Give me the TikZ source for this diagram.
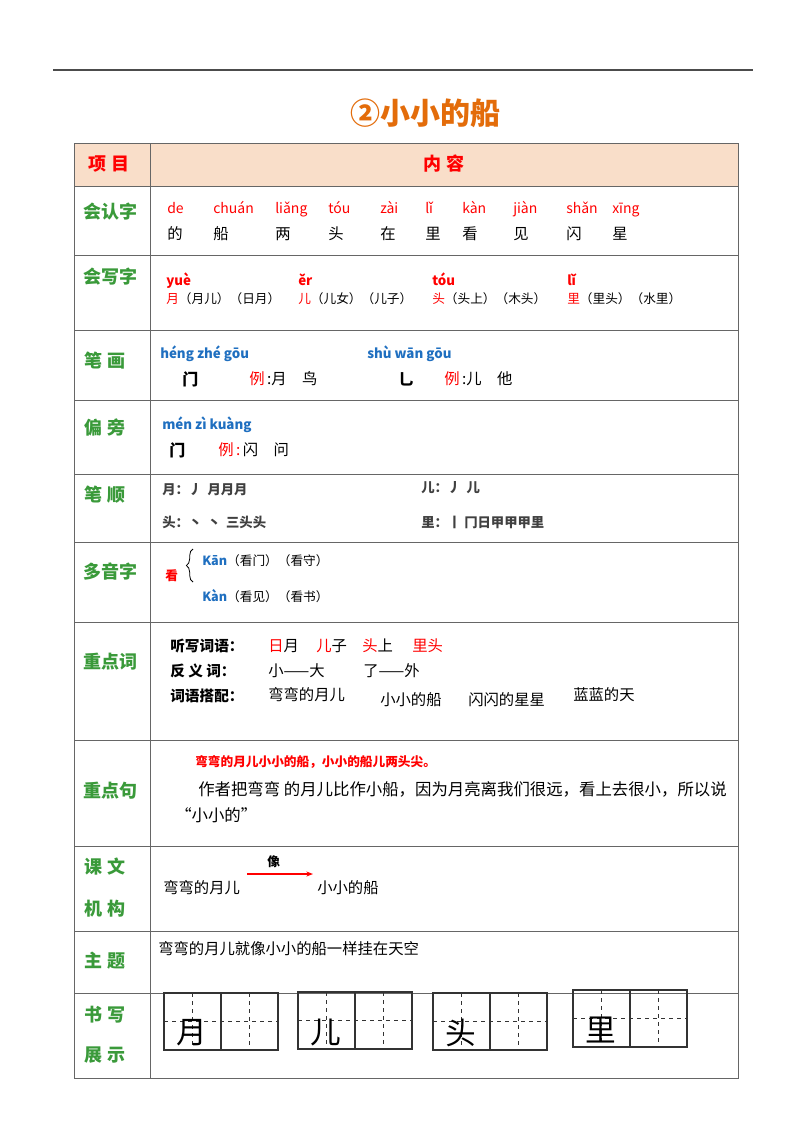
\documentclass[tikz,border=0pt]{standalone}
\usepackage{fontspec}
\setmainfont{Noto Sans CJK SC}
\usetikzlibrary{arrows.meta,decorations.pathreplacing}
\definecolor{lab}{HTML}{3A9A3A}
\definecolor{hdr}{HTML}{F9DEC9}
\definecolor{pyb}{HTML}{1F6FC0}
\definecolor{ttl}{HTML}{E36C0A}
\definecolor{rd}{HTML}{FF0000}
\begin{document}
\begin{tikzpicture}[x=0.75pt,y=-0.75pt,
 lbl/.style={font=\fontsize{13.5}{14}\selectfont\bfseries,text=lab},
 hd/.style={font=\fontsize{13.5}{14}\selectfont\bfseries,text=rd},
 tx/.style={anchor=west,font=\fontsize{11.5}{13}\selectfont,inner sep=0},
 sm/.style={anchor=west,font=\fontsize{9.5}{11}\selectfont,inner sep=0},
 py/.style={anchor=base west,font=\fontsize{10.5}{12}\selectfont,text=rd,inner sep=0},
 pyb/.style={anchor=base west,font=\fontsize{10}{12}\selectfont\bfseries,text=pyb,inner sep=0},
 so/.style={sm,font=\fontsize{10}{11}\selectfont\bfseries,text=black!75},
 grid/.style={draw=black!80,line width=0.8pt},
 gl/.style={draw=black!80,dashed,line width=0.5pt},
 big/.style={font=\fontsize{23}{24}\selectfont,inner sep=0}]
\useasboundingbox (0,0) rectangle (800,1131);
\fill[white] (0,0) rectangle (800,1131);
\draw[black!70,line width=0.8pt] (53,70) -- (753,70);
\node[font=\fontsize{22.5}{23}\selectfont\bfseries,text=ttl] (title) at (425,113) {②小小的船};
% table
\fill[hdr] (74,143) rectangle (738,186);
\draw[black!60,line width=0.7pt] (74,143) rectangle (738,1078);
\draw[black!60,line width=0.7pt] (150,143) -- (150,1078);
\foreach \y in {186,255,330,400,474,542,622,740,846,931,993}
  \draw[black!60,line width=0.7pt] (74,\y) -- (738,\y);
\node[hd] (h1) at (109,164) {项 目};
\node[hd] (h2) at (444,164) {内 容};
\node[lbl] (l1) at (110,212) {会认字};
\node[lbl] (l2) at (110,277) {会写字};
\node[lbl] (l3) at (105,361) {笔 画};
\node[lbl] (l4) at (105,427) {偏 旁};
\node[lbl] (l5) at (105,495) {笔 顺};
\node[lbl] (l6) at (110,572) {多音字};
\node[lbl] (l7) at (110,662) {重点词};
\node[lbl] (l8) at (110,791) {重点句};
\node[lbl] (l9a) at (105,867) {课 文};
\node[lbl] (l9b) at (105,909) {机 构};
\node[lbl] (l10) at (105,961) {主 题};
\node[lbl] (l11a) at (105,1015) {书 写};
\node[lbl] (l11b) at (105,1055) {展 示};
% row 1
\foreach \x/\p/\c in {167/de/的,213/chuán/船,275/liǎng/两,328/tóu/头,380/zài/在,425/lǐ/里,462/kàn/看,513/jiàn/见,566/shǎn/闪,612/xīng/星}{
  \node[py] (p\x) at (\x,213) {\p};
  \node[tx] (c\x) at (\x,234) {\c};}
% row 2
\foreach \x/\p/\c/\r in {166/yuè/月/（月儿）（日月）,298/ěr/儿/（儿女）（儿子）,432/tóu/头/（头上）（木头）,567/lǐ/里/（里头）（水里）}{
  \node[py,font=\fontsize{10}{12}\selectfont\bfseries] (q\x) at (\x,285) {\p};
  \node[sm] (w\x) at (\x,299) {\textcolor{rd}{\c}\r};}
% row 3
\node[pyb] (bh1) at (160,358) {héng zhé gōu};
\node[pyb] (bh2) at (367,358) {shù wān gōu};
\node[tx,font=\fontsize{12}{13}\selectfont\bfseries] (s1) at (182,379) {门};
\node[tx] (e1) at (249,379) {\textcolor{rd}{例}\,:月\quad 鸟};
\node[tx,font=\fontsize{12}{13}\selectfont\bfseries] (s2) at (398,379) {乚};
\node[tx] (e2) at (444,379) {\textcolor{rd}{例}\,:儿\quad 他};
% row 4
\node[pyb] (bp) at (162,429) {mén zì kuàng};
\node[tx,font=\fontsize{12}{13}\selectfont\bfseries] (s3) at (169,450) {门};
\node[tx] (e3) at (218,450) {\textcolor{rd}{例\,:}\,闪\quad 问};
% row 5
\node[so] (o1) at (162,490) {月：丿 \,月月月};
\node[so] (o2) at (421,488) {儿：丿 \,儿};
\node[so] (o3) at (162,522) {头：丶 \,丶 \,三头头};
\node[so] (o4) at (421,522) {里：丨 冂日甲甲甲里};
% row 6
\node[sm,text=rd,font=\fontsize{9.5}{11}\selectfont\bfseries] (kan) at (165,576) {看};
\draw[black,line width=0.6pt,decorate,decoration={brace,amplitude=5pt}] (193,582) -- (193,549);
\node[sm] (k1) at (202,561) {\textcolor{pyb}{\bfseries Kān}（看门）（看守）};
\node[sm] (k2) at (202,596) {\textcolor{pyb}{\bfseries Kàn}（看见）（看书）};
% row 7
\node[tx,font=\fontsize{11}{13}\selectfont\bfseries] (t1) at (170,646) {听写词语：};
\node[tx,font=\fontsize{11}{13}\selectfont\bfseries] (t2) at (170,671) {反\ 义\ 词：};
\node[tx,font=\fontsize{11}{13}\selectfont\bfseries] (t3) at (170,696) {词语搭配：};
\node[tx] (a1) at (268,646) {\textcolor{rd}{日}月};
\node[tx] (a2) at (316,646) {\textcolor{rd}{儿}子};
\node[tx] (a3) at (362,646) {\textcolor{rd}{头}上};
\node[tx] (a4) at (412,646) {\textcolor{rd}{里头}};
\node[tx] (b1) at (268,671) {小——大};
\node[tx] (b2) at (363,671) {了——外};
\node[tx] (d1) at (268,695) {弯弯的月儿};
\node[tx] (d2) at (380,700) {小小的船};
\node[tx] (d3) at (468,700) {闪闪的星星};
\node[tx] (d4) at (573,695) {蓝蓝的天};
% row 8
\node[sm,text=rd,font=\fontsize{9.5}{11}\selectfont\bfseries] (j1) at (195,762) {弯弯的月儿小小的船，小小的船儿两头尖。};
\node[tx,font=\fontsize{12.3}{13}\selectfont] (j2) at (198,789) {作者把弯弯 的月儿比作小船，因为月亮离我们很远，看上去很小，所以说};
\node[tx,font=\fontsize{12.3}{13}\selectfont] (j3) at (175,815) {“小小的”};
% row 9
\node[tx] (m1) at (163,888) {弯弯的月儿};
\node[tx] (m2) at (317,888) {小小的船};
\node[sm,font=\fontsize{9.5}{11}\selectfont\bfseries] (xiang) at (267,862) {像};
\coordinate (ar1) at (247,874);
\coordinate (ar2) at (313,874);
\draw[rd,line width=0.8pt,-{Stealth[length=5pt]}] (ar1) -- (ar2);
% row 10
\node[tx] (th) at (158,949) {弯弯的月儿就像小小的船一样挂在天空};
% row 11 grids
\foreach \gx/\gy/\ch/\n in {164/993/月/g1,298/992/儿/g2,433/993/头/g3,573/990/里/g4}{
  \draw[gl] (\gx,\gy+28.5) -- (\gx+114,\gy+28.5);
  \draw[gl] (\gx+28.5,\gy) -- (\gx+28.5,\gy+57);
  \draw[gl] (\gx+85.5,\gy) -- (\gx+85.5,\gy+57);
  \draw[grid] (\gx,\gy) rectangle (\gx+114,\gy+57);
  \draw[grid] (\gx+57,\gy) -- (\gx+57,\gy+57);
  \node[big] (\n) at (\gx+28,\gy+40) {\ch};}
\end{tikzpicture}
\end{document}
